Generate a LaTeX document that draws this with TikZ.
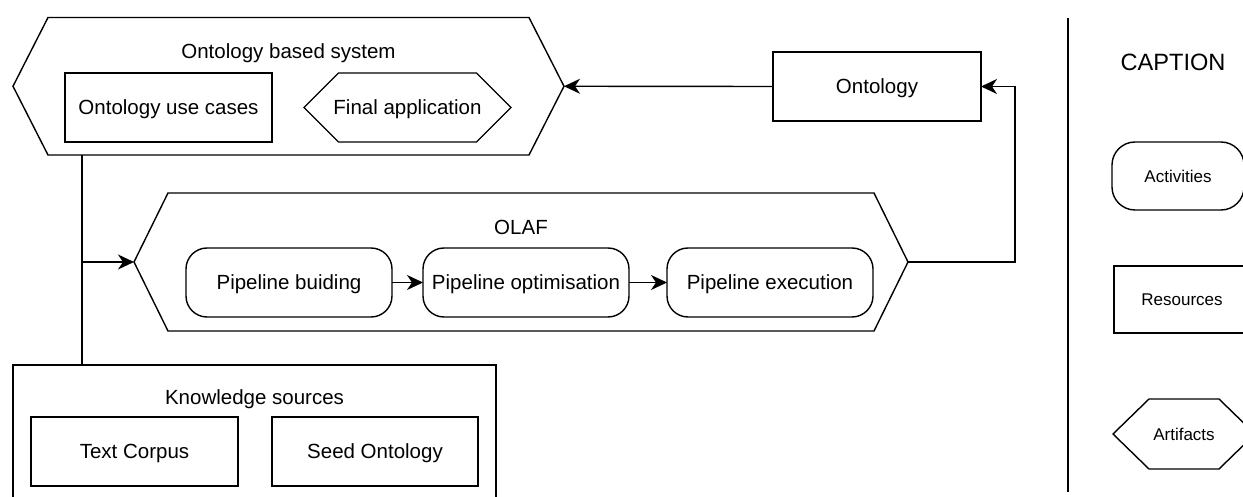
\documentclass[tikz,border=0pt]{standalone}
\usepackage{fontspec}
\setmainfont{Liberation Sans}
\usetikzlibrary{arrows.meta,calc}
\begin{document}
\begin{tikzpicture}[x=1pt,y=-1pt,
  line width=1.4pt,
  every node/.style={inner sep=0pt,outer sep=0pt,text depth=0pt},
  txt/.style={font=\fontsize{20.5}{24}\selectfont},
  smalltxt/.style={font=\fontsize{17}{20}\selectfont},
  rectbox/.style={draw,txt,minimum height=69pt},
  actbox/.style={draw,rounded corners=21pt,txt,minimum height=69pt,minimum width=206pt},
  hexbox/.style={txt,append after command={\pgfextra{\edef\hexnm{\tikzlastnode}%
     \draw[line width=1.4pt] ([xshift=#1]\hexnm.north west) -- ([xshift=-#1]\hexnm.north east)
     -- (\hexnm.east) -- ([xshift=-#1]\hexnm.south east)
     -- ([xshift=#1]\hexnm.south west) -- (\hexnm.west) -- cycle;}}},
  hexbox/.default=35,
  arr/.style={-{Stealth[length=16pt,width=15pt,inset=5pt]}}
]
\useasboundingbox (0,0) rectangle (1243,497);
\clip (0,0) rectangle (1243,497);

% Ontology based system
\node[hexbox=35,minimum width=551pt,minimum height=137.5pt] (obs) at (288.5,86.25) {};
\node[txt] (obst) at (288.5,51.5) {Ontology based system};
\node[rectbox,minimum width=207pt] (usec) at (168.5,107.5) {Ontology use cases};
\node[hexbox=34.5,minimum width=207pt,minimum height=69pt] (fapp) at (407.5,107.5) {Final application};

% Ontology
\node[rectbox,minimum width=208pt] (onto) at (877,86.5) {Ontology};

% OLAF
\node[hexbox=34,minimum width=774pt,minimum height=138pt] (olaf) at (521,262) {};
\node[txt] (olaft) at (521,227) {OLAF};
\node[actbox] (pb) at (289,282.5) {Pipeline buiding};
\node[actbox] (po) at (526,282.5) {Pipeline optimisation};
\node[actbox] (pe) at (770,282.5) {Pipeline execution};

% Knowledge sources
\node[draw,minimum width=483pt,minimum height=160pt] (ks) at (254.5,445) {};
\node[txt] (kst) at (254.5,397.5) {Knowledge sources};
\node[rectbox,minimum width=207pt] (tc) at (134.5,451.5) {Text Corpus};
\node[rectbox,minimum width=206pt] (so) at (375,451.5) {Seed Ontology};

% connectors
\coordinate (junc) at (82,262);
\coordinate (ret) at (1015,262);
\draw (junc |- obs.south) -- (junc |- ks.north);
\draw[arr] (junc) -- (olaf.west);
\draw[arr] (onto.west) -- (obs.east);
\draw[arr] (olaf.east) -- (ret) |- (onto.east);
\draw[arr] (pb.east) -- (po.west);
\draw[arr] (po.east) -- (pe.west);

% caption
\coordinate (cl1) at (1068,18);
\coordinate (cl2) at (1068,492);
\draw (cl1) -- (cl2);
\node[font=\fontsize{23.6}{28}\selectfont] (capt) at (1173,62) {CAPTION};
\node[draw,rounded corners=23pt,smalltxt,minimum width=132pt,minimum height=68pt] (lact) at (1178,176) {Activities};
\node[draw,smalltxt,minimum width=136pt,minimum height=67pt] (lres) at (1182,299.5) {Resources};
\node[hexbox=36,minimum width=142pt,minimum height=70pt,font=\fontsize{17}{20}\selectfont] (lart) at (1184,434) {Artifacts};
\end{tikzpicture}
\end{document}
